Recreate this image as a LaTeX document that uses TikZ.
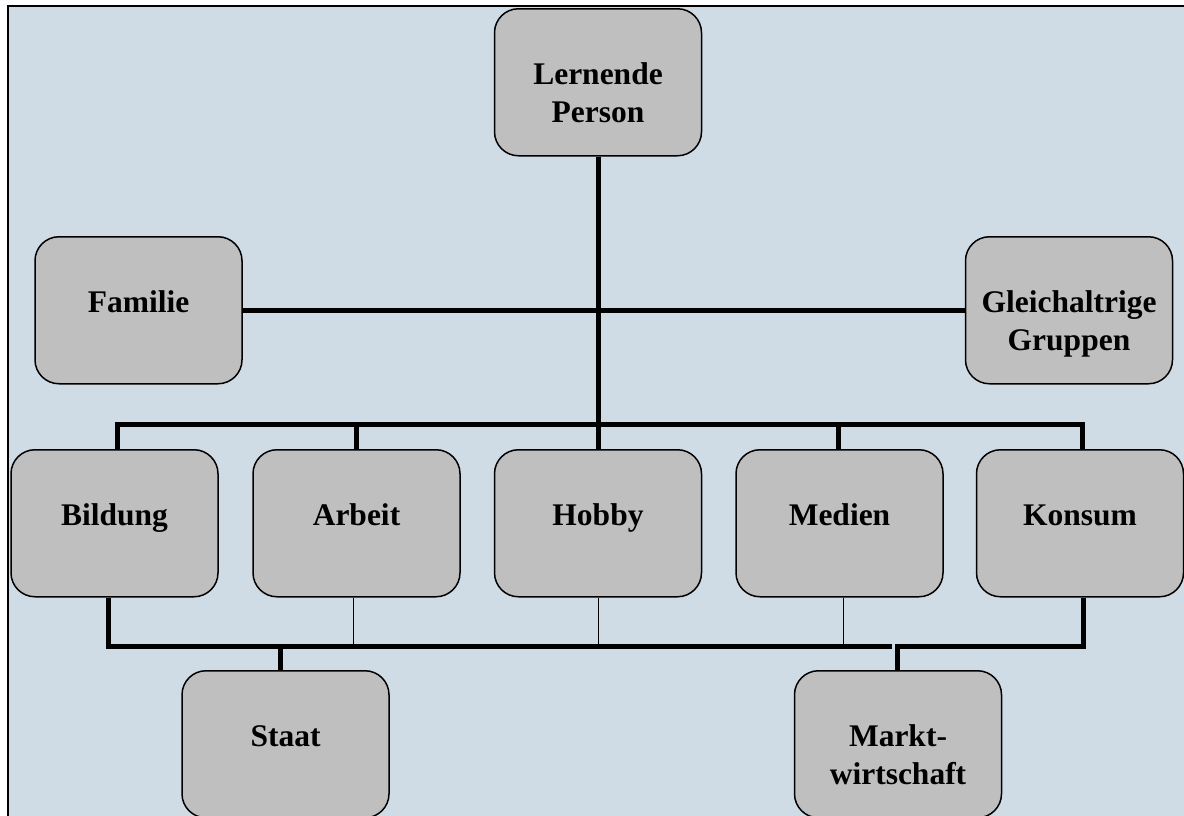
\documentclass[tikz,border=0pt]{standalone}
\usepackage{fontspec}
\setmainfont{Liberation Serif}
\definecolor{bgc}{RGB}{208,220,229}
\definecolor{boxc}{RGB}{191,191,191}
\begin{document}
\begin{tikzpicture}[x=1pt,y=-1pt,
  box/.style={draw=black,line width=1.5pt,fill=boxc,rounded corners=24pt,minimum width=207pt,minimum height=147pt,inner sep=0pt,anchor=north},
  lbl/.style={anchor=north,inner sep=0pt,align=center,font=\bfseries\fontsize{31.5}{38}\selectfont,execute at begin node={\vphantom{Hdl}}},
  thk/.style={line width=5pt},
  thn/.style={line width=1pt}]
\useasboundingbox (0,0) rectangle (1184,815);
\fill[white] (0,0) rectangle (1184,815);
\begin{scope}
\clip (0,0) rectangle (1184,815);
\draw[line width=2pt,fill=bgc] (7.5,6) rectangle (1200,840);
\end{scope}
% boxes
\node[box] (lp)  at (598,8) {};
\node[box] (fam) at (138.5,236) {};
\node[box] (gl)  at (1069,236) {};
\node[box] (bil) at (114.5,449) {};
\node[box] (arb) at (356.5,449) {};
\node[box] (hob) at (598,449) {};
\node[box] (med) at (839.5,449) {};
\node[box] (kon) at (1080,449) {};
\node[box] (sta) at (285.5,670) {};
\node[box] (mw)  at (898,670) {};
% labels
\node[lbl] (lpT)  at ([yshift=-54pt]lp.north)  {Lernende\\Person};
\node[lbl] (famT) at ([yshift=-54pt]fam.north) {Familie};
\node[lbl] (glT)  at ([yshift=-54pt]gl.north)  {Gleichaltrige\\Gruppen};
\node[lbl] (bilT) at ([yshift=-54pt]bil.north) {Bildung};
\node[lbl] (arbT) at ([yshift=-54pt]arb.north) {Arbeit};
\node[lbl] (hobT) at ([yshift=-54pt]hob.north) {Hobby};
\node[lbl] (medT) at ([yshift=-54pt]med.north) {Medien};
\node[lbl] (konT) at ([yshift=-54pt]kon.north) {Konsum};
\node[lbl] (staT) at ([yshift=-54pt]sta.north) {Staat};
\node[lbl] (mwT)  at ([yshift=-54pt]mw.north)  {Markt-\\wirtschaft};
% connectors
\draw[thk] (lp.south) -- (hob.north);
\draw[thk] (fam.east) -- (gl.west);
\draw[thk] ([xshift=2.5pt]bil.north) -- ++(0,-25) -| ([xshift=2pt]kon.north);
\draw[thk] (arb.north) -- ++(0,-25);
\draw[thk] ([xshift=-1.5pt]med.north) -- ++(0,-25);
\coordinate (busend) at (892,646);
\draw[thk] ([xshift=-6.5pt]bil.south) |- (busend);
\draw[thn] ([xshift=-3.5pt]arb.south) -- ++(0,50);
\draw[thn] (hob.south) -- ++(0,50);
\draw[thn] ([xshift=3.5pt]med.south) -- ++(0,50);
\draw[thk] ([xshift=-5.5pt]sta.north) -- ++(0,-24);
\draw[thk] ([xshift=-0.5pt]mw.north) -- ++(0,-24) -| ([xshift=3pt]kon.south);
\end{tikzpicture}
\end{document}
